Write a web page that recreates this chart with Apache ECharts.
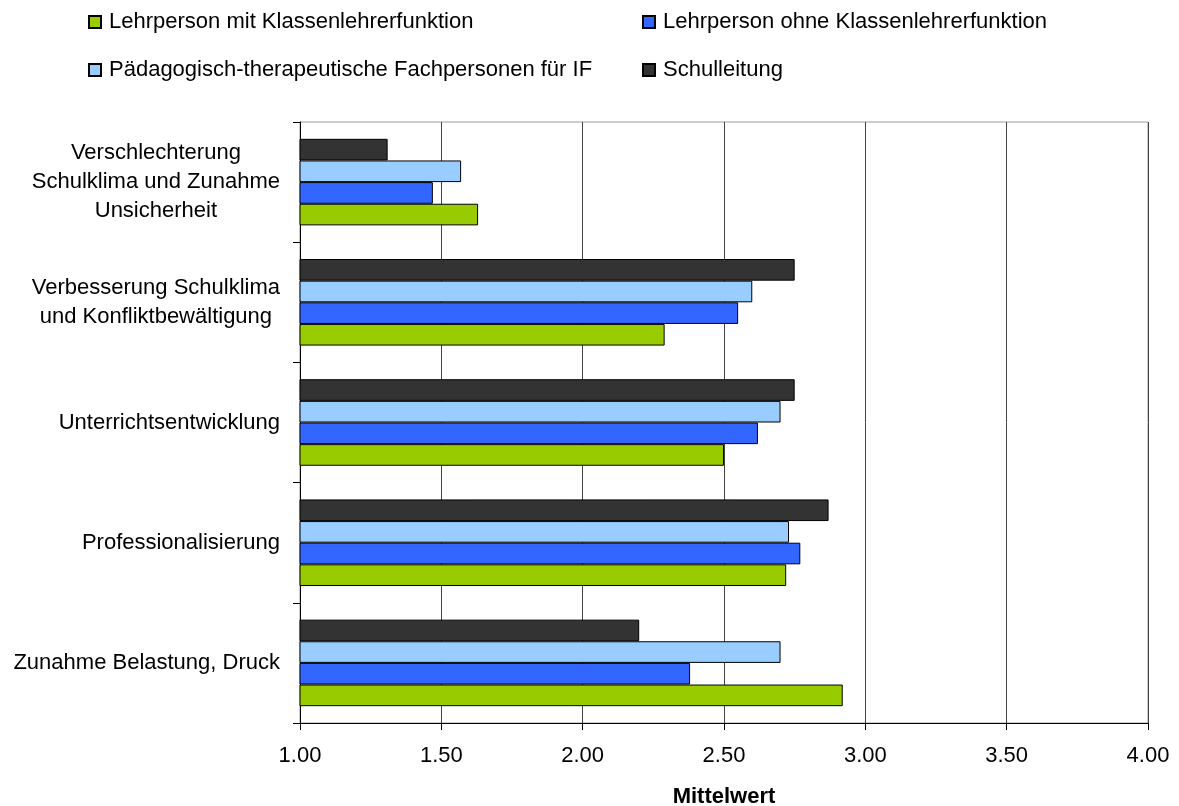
<!DOCTYPE html>
<html>
<head>
<meta charset="utf-8">
<script src="https://cdn.jsdelivr.net/npm/echarts@6/dist/echarts.min.js"></script>
<style>
  html, body { margin: 0; padding: 0; background: #fff; }
  #chart { width: 1179px; height: 806px; }
</style>
</head>
<body>
<div id="chart"></div>
<script>
// Categories listed bottom to top (category axis grows upward)
const categories = [
  'Zunahme Belastung, Druck',
  'Professionalisierung',
  'Unterrichtsentwicklung',
  'Verbesserung Schulklima\nund Konfliktbewältigung',
  'Verschlechterung\nSchulklima und Zunahme\nUnsicherheit'
];

// Mean values per group, same order as categories
const lehrpersonMit   = [2.92, 2.72, 2.50, 2.29, 1.63];
const lehrpersonOhne  = [2.38, 2.77, 2.62, 2.55, 1.47];
const paedTherapeut   = [2.70, 2.73, 2.70, 2.60, 1.57];
const schulleitung    = [2.20, 2.87, 2.75, 2.75, 1.31];

const seriesNames = [
  'Lehrperson mit Klassenlehrerfunktion',
  'Lehrperson ohne Klassenlehrerfunktion',
  'Pädagogisch-therapeutische Fachpersonen für IF',
  'Schulleitung'
];
const seriesColors = ['#99CC00', '#3366FF', '#99CCFF', '#333333'];
const seriesData = [lehrpersonMit, lehrpersonOhne, paedTherapeut, schulleitung];

const xTicks = { min: 1, max: 4, interval: 0.5 };
const axisTitle = 'Mittelwert';

const FONT = 'Liberation Sans, Arial, sans-serif';
const FS = 22;

const chart = echarts.init(document.getElementById('chart'), null, { renderer: 'canvas' });

// one legend per entry, two rows of two
const legendPos = [
  { left: 88, top: 10 },
  { left: 642, top: 10 },
  { left: 88, top: 58 },
  { left: 642, top: 58 }
];

// bars are stacked top-down in series order, so draw Schulleitung first
const drawOrder = [3, 2, 1, 0];

const option = {
  backgroundColor: '#ffffff',
  animation: false,
  legend: seriesNames.map((name, i) => ({
    data: [name],
    left: legendPos[i].left,
    top: legendPos[i].top,
    icon: 'rect',
    itemWidth: 12,
    itemHeight: 12,
    selectedMode: false,
    padding: 0,
    textStyle: {
      fontFamily: FONT, fontSize: FS, color: '#000',
      lineHeight: 24, padding: [0, 0, 0, 3]
    }
  })),
  grid: {
    left: 300,
    right: 31,
    top: 122,
    bottom: 83,
    outerBoundsMode: 'none',
    show: true,
    borderColor: '#9a9a9a',
    borderWidth: 1
  },
  xAxis: {
    type: 'value',
    min: xTicks.min,
    max: xTicks.max,
    interval: xTicks.interval,
    name: axisTitle,
    nameLocation: 'middle',
    nameGap: 63,
    nameTextStyle: { fontFamily: FONT, fontSize: FS, fontWeight: 'bold', color: '#000' },
    axisLine: { show: true, lineStyle: { color: '#000', width: 1 } },
    axisTick: { show: true, length: 7, lineStyle: { color: '#000' } },
    axisLabel: {
      fontFamily: FONT, fontSize: FS, color: '#000', margin: 22,
      formatter: v => v.toFixed(2)
    },
    splitLine: { show: true, lineStyle: { color: '#444', width: 1 } }
  },
  yAxis: {
    type: 'category',
    data: categories,
    axisLine: { show: true, lineStyle: { color: '#000', width: 1 } },
    axisTick: { show: true, length: 7, lineStyle: { color: '#000' } },
    axisLabel: {
      fontFamily: FONT, fontSize: FS, color: '#000', margin: 20,
      formatter: v => v.split('\n').map(l => '{c|' + l + '}').join('\n'),
      rich: {
        c: { fontFamily: FONT, fontSize: FS, color: '#000', align: 'center', lineHeight: 29 }
      }
    },
    splitLine: { show: false }
  },
  series: drawOrder.map(i => ({
    name: seriesNames[i],
    type: 'bar',
    data: seriesData[i],
    barGap: '0%',
    barCategoryGap: '28%',
    itemStyle: { color: seriesColors[i], borderColor: '#000', borderWidth: 1 }
  }))
};

chart.setOption(option);
</script>
</body>
</html>
